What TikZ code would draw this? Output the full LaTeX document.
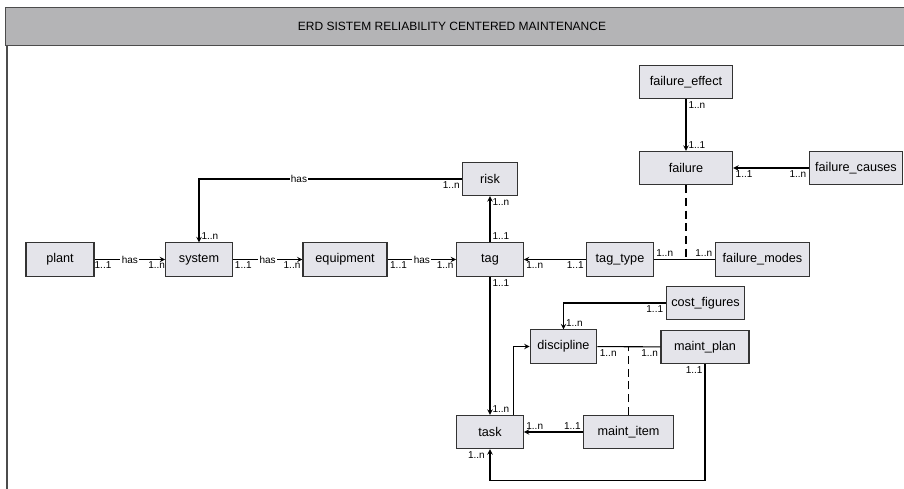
\documentclass[tikz,border=0pt]{standalone}
\usepackage{fontspec}
\setmainfont{Liberation Sans}
\usetikzlibrary{arrows, positioning, calc}
\definecolor{boxfill}{RGB}{228,228,234}
\definecolor{bandgray}{RGB}{180,180,182}

\begin{document}
\begin{tikzpicture}[
    x=0.75pt, y=-0.75pt,
    entity/.style={rectangle, draw=black!80, line width=0.8pt, fill=boxfill, font=\fontsize{9.5}{11}\selectfont, minimum height=25pt, inner sep=2pt},
    rel/.style={font=\fontsize{7.5}{9}\selectfont, fill=white, inner sep=1pt},
    card/.style={font=\fontsize{7.5}{9}\selectfont, inner sep=1.5pt},
    arrow/.style={->, >=stealth, line width=0.8pt},
    link/.style={line width=0.8pt},
    weak/.style={line width=0.8pt, dash pattern=on 6pt off 3.5pt}
]
\useasboundingbox (0,0) rectangle (904,489);

% Marco
\draw[draw=black!70, fill=bandgray] (5,7) rectangle (904,45);
\node[font=\fontsize{9}{11}\selectfont] (title) at (452,26) {ERD SISTEM RELIABILITY CENTERED MAINTENANCE};
\draw[black!70, line width=0.8pt] (7,45) -- (7,489);

% Entidades
\node[entity, minimum width=51pt] (plant) at (60,259.5) {plant};
\node[entity, minimum width=50pt] (system) at (199,259.5) {system};
\node[entity, minimum width=63pt] (equipment) at (345,259.5) {equipment};
\node[entity, minimum width=50pt] (tag) at (490,259.5) {tag};
\node[entity, minimum width=41pt] (risk) at (490,179) {risk};
\node[entity, minimum width=50pt] (tag_type) at (620,259.5) {tag\_type};
\node[entity, minimum width=71pt] (failure_modes) at (762.5,259.5) {failure\_modes};
\node[entity, minimum width=70pt] (failure_effect) at (686,82) {failure\_effect};
\node[entity, minimum width=70pt] (failure) at (686,168) {failure};
\node[entity, minimum width=70pt] (failure_causes) at (856,168) {failure\_causes};
\node[entity, minimum width=59pt] (cost_figures) at (705.5,303) {cost\_figures};
\node[entity, minimum width=50pt] (discipline) at (563.5,346.5) {discipline};
\node[entity, minimum width=66pt] (maint_plan) at (705,347) {maint\_plan};
\node[entity, minimum width=50pt] (task) at (490,432) {task};
\node[entity, minimum width=67pt] (maint_item) at (628.5,432) {maint\_item};

% Relaciones
\draw[arrow] (plant) -- node[rel]{has} node[card, pos=0.12, below]{1..1} node[card, pos=0.88, below]{1..n} (system);
\draw[arrow] (system) -- node[rel]{has} node[card, pos=0.15, below]{1..1} node[card, pos=0.85, below]{1..n} (equipment);
\draw[arrow] (equipment) -- node[rel]{has} node[card, pos=0.16, below]{1..1} node[card, pos=0.84, below]{1..n} (tag);
\draw[arrow] (risk.west) -| node[rel, pos=0.31]{has} node[card, at start, below left]{1..n} node[card, at end, above right]{1..n} (system);
\draw[arrow] (tag) -- node[card, at start, above right]{1..1} node[card, at end, below right]{1..n} (risk);
\draw[arrow] (tag_type) -- node[card, at start, below left]{1..1} node[card, at end, below right]{1..n} (tag);
\draw[link] (tag_type) -- node[card, at start, above right]{1..n} node[card, at end, above left]{1..n} (failure_modes);
\draw[arrow] (failure_effect) -- node[card, at start, below right]{1..n} node[card, at end, above right]{1..1} (failure);
\draw[arrow] (failure_causes) -- node[card, at start, below left]{1..n} node[card, at end, below right]{1..1} (failure);
\draw[arrow] (tag) -- node[card, at start, below right]{1..1} node[card, at end, above right]{1..n} (task);
\draw[arrow] (cost_figures.west) -| node[card, at start, below left]{1..1} node[card, at end, above right]{1..n} (discipline);
\draw[link] (discipline) -- node[card, at start, below right]{1..n} node[card, at end, below left]{1..n} (maint_plan);
\draw[arrow] (maint_item) -- node[card, at start, above left]{1..1} node[card, at end, above right]{1..n} (task);
\draw[arrow] ([xshift=-7.5pt]task.north east) |- (discipline);
\draw[arrow] (maint_plan.south) -- node[card, at start, below left]{1..1} ++(0,116) -| node[card, at end, below left, xshift=-2pt]{1..n} (task);

% Asociaciones
\coordinate (fm) at (failure |- tag_type.east);
\coordinate (dm) at (maint_item |- discipline.east);
\draw[weak] (failure) -- (fm);
\draw[weak] (maint_item) -- (dm);

\end{tikzpicture}
\end{document}
